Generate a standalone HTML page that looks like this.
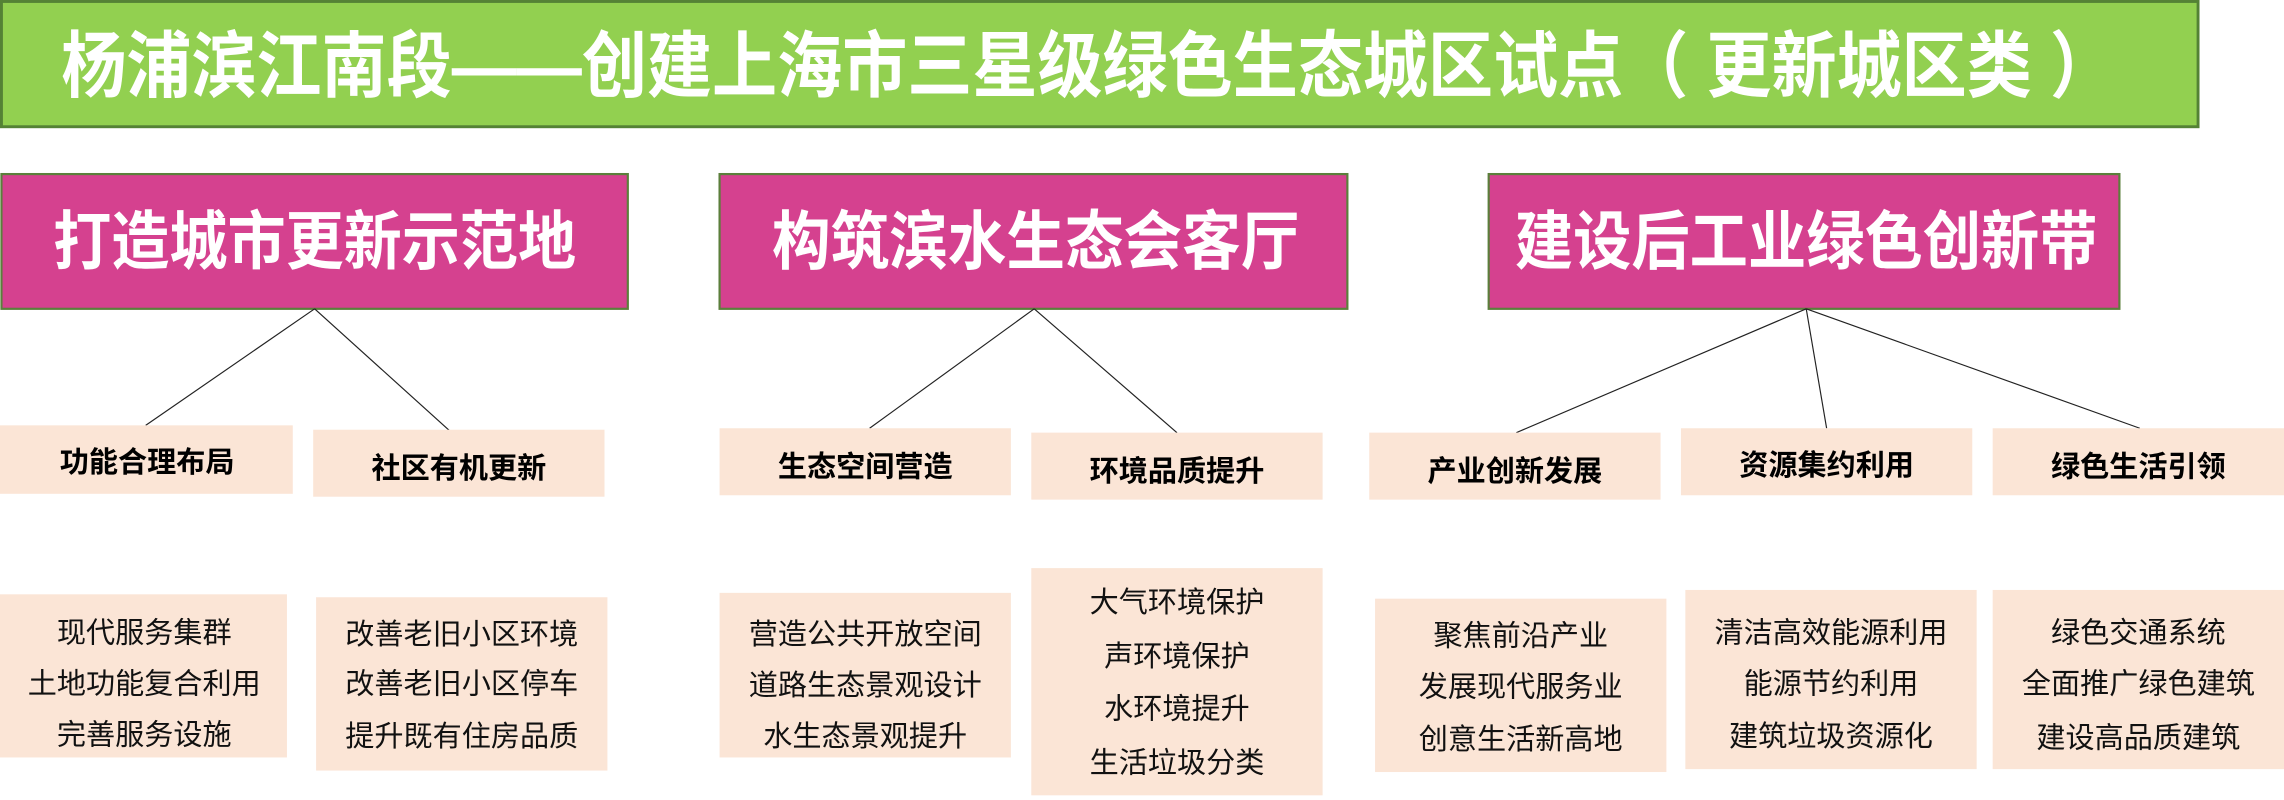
<!DOCTYPE html>
<html><head><meta charset="utf-8"><style>
html,body{margin:0;padding:0;background:#fff;}
svg{display:block;}
text{font-family:"Liberation Sans","Noto Sans CJK SC",sans-serif;}
</style></head><body>
<svg width="2284" height="800" viewBox="0 0 1568 549.2" xmlns="http://www.w3.org/2000/svg">
<rect x="1" y="1" width="1508" height="86" fill="#92D050" stroke="#548235" stroke-width="2"/>
<text x="42" y="46" font-size="50" font-weight="bold" fill="#fff" dominant-baseline="central" textLength="1410" lengthAdjust="spacingAndGlyphs">杨浦滨江南段——创建上海市三星级绿色生态城区试点（ 更新城区类 ）</text>

<g fill="#D5418F" stroke="#5B7F3B" stroke-width="1.5">
<rect x="1" y="119.5" width="430" height="92.5"/>
<rect x="494" y="119.5" width="431" height="92.5"/>
<rect x="1022" y="119.5" width="433" height="92.5"/>
</g>
<g font-size="44" font-weight="bold" fill="#fff" dominant-baseline="central" text-anchor="middle">
<text x="216" y="166" textLength="359" lengthAdjust="spacingAndGlyphs">打造城市更新示范地</text>
<text x="711" y="166" textLength="362" lengthAdjust="spacingAndGlyphs">构筑滨水生态会客厅</text>
<text x="1240" y="166" textLength="400" lengthAdjust="spacingAndGlyphs">建设后工业绿色创新带</text>
</g>

<g stroke="#222" stroke-width="0.8" fill="none">
<line x1="216" y1="212" x2="100" y2="292"/>
<line x1="216" y1="212" x2="309" y2="296"/>
<line x1="710" y1="212" x2="597" y2="294"/>
<line x1="710" y1="212" x2="808" y2="297"/>
<line x1="1240" y1="212" x2="1041" y2="297"/>
<line x1="1240" y1="212" x2="1254" y2="294"/>
<line x1="1240" y1="212" x2="1469" y2="294"/>
</g>

<g fill="#FBE5D6">
<rect x="0" y="292" width="201" height="47"/>
<rect x="215" y="295" width="200" height="46"/>
<rect x="494" y="294" width="200" height="46"/>
<rect x="708" y="297" width="200" height="46"/>
<rect x="940" y="297" width="200" height="46"/>
<rect x="1154" y="294" width="200" height="46"/>
<rect x="1368" y="294" width="200" height="46"/>

<rect x="0" y="408" width="197" height="112"/>
<rect x="217" y="410" width="200" height="119"/>
<rect x="494" y="407" width="200" height="113"/>
<rect x="708" y="390" width="200" height="156"/>
<rect x="944" y="411" width="200" height="119"/>
<rect x="1157" y="405" width="200" height="123"/>
<rect x="1368" y="405" width="200" height="123"/>
</g>

<g font-size="20" font-weight="bold" fill="#000" dominant-baseline="central" text-anchor="middle">
<text x="101" y="318">功能合理布局</text>
<text x="315" y="322">社区有机更新</text>
<text x="594" y="321">生态空间营造</text>
<text x="808" y="324">环境品质提升</text>
<text x="1040" y="324">产业创新发展</text>
<text x="1254" y="320">资源集约利用</text>
<text x="1468" y="321">绿色生活引领</text>
</g>

<g font-size="20" fill="#111" dominant-baseline="central" text-anchor="middle">
<text x="99" y="435">现代服务集群</text>
<text x="99" y="470">土地功能复合利用</text>
<text x="99" y="505">完善服务设施</text>

<text x="317" y="436">改善老旧小区环境</text>
<text x="317" y="470">改善老旧小区停车</text>
<text x="317" y="506">提升既有住房品质</text>

<text x="594" y="436">营造公共开放空间</text>
<text x="594" y="471">道路生态景观设计</text>
<text x="594" y="506">水生态景观提升</text>

<text x="808" y="414">大气环境保护</text>
<text x="808" y="451">声环境保护</text>
<text x="808" y="487">水环境提升</text>
<text x="808" y="524">生活垃圾分类</text>

<text x="1044" y="437">聚焦前沿产业</text>
<text x="1044" y="472">发展现代服务业</text>
<text x="1044" y="508">创意生活新高地</text>

<text x="1257" y="435">清洁高效能源利用</text>
<text x="1257" y="470">能源节约利用</text>
<text x="1257" y="506">建筑垃圾资源化</text>

<text x="1468" y="435">绿色交通系统</text>
<text x="1468" y="470">全面推广绿色建筑</text>
<text x="1468" y="507">建设高品质建筑</text>
</g>
</svg>
</body></html>
